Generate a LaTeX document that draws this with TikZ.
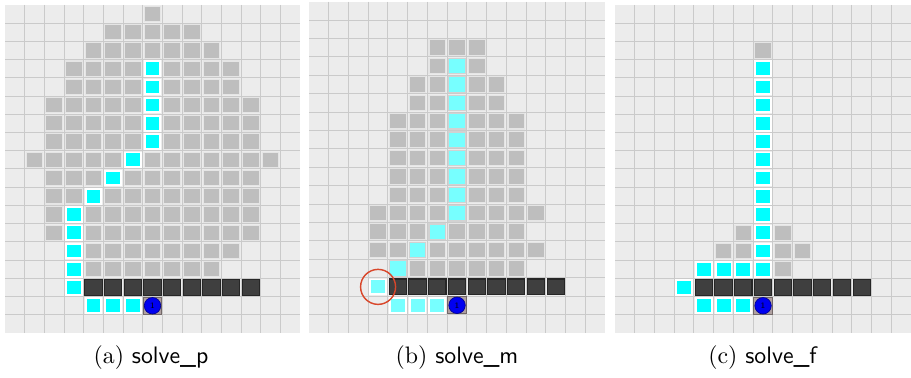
\documentclass[tikz,border=0pt]{standalone}
\usepackage{tikz}
\definecolor{gridbg}{HTML}{ECECEC}
\definecolor{gridln}{HTML}{CACACA}
\definecolor{seengray}{HTML}{BEBEBE}
\definecolor{pathcyan}{HTML}{00FFFF}
\definecolor{pathcyanlt}{HTML}{77FFFF}
\definecolor{wallgray}{HTML}{3F3F3F}
\definecolor{startbg}{HTML}{AFA0A0}
\definecolor{agentblue}{HTML}{0000F0}
\definecolor{markred}{HTML}{D9472B}
\tikzset{
  grid-back/.style={fill=gridbg},
  grid-line/.style={draw=gridln, line width=0.4pt},
  seen-cell/.style={fill=seengray, draw=white!60!seengray, line width=0.45pt},
  path-cell/.style={fill=pathcyan, draw=white, line width=0.8pt},
  path-cell-lt/.style={fill=pathcyanlt, draw=white!65!gray, line width=0.5pt},
  wall-cell/.style={fill=wallgray, draw=black!85, line width=0.45pt},
  start-cell/.style={fill=startbg, draw=black!35!startbg, line width=0.4pt},
  agent/.style={circle, fill=agentblue, draw=blue!60!black, line width=0.3pt,
    inner sep=0pt, minimum size=6.9pt, font=\fontsize{3.5}{3.5}\selectfont},
  sub-caption/.style={anchor=base, font=\normalsize, inner sep=0pt},
  mark-ring/.style={draw=markred, line width=0.6pt}
}
% one filled square inside cell (col,row), optional gap to the cell edge
\newcommand\fillcell[4][0.1]{\path[#2] (#3+#1,#4+#1) rectangle (#3+1-#1,#4+1-#1);}
\newcommand\fillrow[4]{\foreach \cc in {#3,...,#4} {\fillcell[0.08]{#1}{\cc}{#2}}}
% 15 x 18 board with the wall and the start cell
\newcommand\emptyboard{%
  \fill[grid-back] (0,0) rectangle (15,18);
  \foreach \i in {1,...,14} {\draw[grid-line] (\i,0) -- (\i,18);}
  \foreach \j in {1,...,17} {\draw[grid-line] (0,\j) -- (15,\j);}
  \foreach \cc in {4,...,12} {\path[wall-cell] (\cc+0.06,15.07) rectangle (\cc+0.94,15.93);}
  \path[start-cell] (7.03,16.03) rectangle (7.97,16.97);
}

\begin{document}
\begin{tikzpicture}[x=0.42pt, y=-0.42pt]
  \useasboundingbox (0,0) rectangle (911,377);
  % (a)
  \begin{scope}[shift={(5,4.8)}, x=8.26pt, y=-7.66pt]
    \emptyboard
    \foreach \rw/\ca/\cb in {0/7/7, 1/5/9, 2/4/10, 3/3/11, 4/3/11, 5/2/12, 6/2/12, 7/2/12,
      8/1/13, 9/2/12, 10/2/12, 11/2/12, 12/2/12, 13/4/11, 14/4/10}
      {\fillrow{seen-cell}{\rw}{\ca}{\cb}}
    \foreach \cc/\rw in {7/3, 7/4, 7/5, 7/6, 7/7, 6/8, 5/9, 4/10, 3/11, 3/12, 3/13, 3/14,
      3/15, 4/16, 5/16, 6/16}
      {\fillcell{path-cell}{\cc}{\rw}}
    \node[agent] (agentA) at (7.5,16.5) {1};
  \end{scope}
  % (b)
  \begin{scope}[shift={(309,1.6)}, x=8.29pt, y=-7.73pt]
    \emptyboard
    \foreach \rw/\ca/\cb in {2/6/8, 3/6/8, 4/5/9, 5/5/9, 6/4/10, 7/4/10, 8/4/10, 9/4/10,
      10/4/10, 11/3/11, 12/3/10, 13/3/11, 14/5/10}
      {\fillrow{seen-cell}{\rw}{\ca}{\cb}}
    \foreach \cc/\rw in {7/3, 7/4, 7/5, 7/6, 7/7, 7/8, 7/9, 7/10, 7/11, 6/12, 5/13, 4/14}
      {\fillcell[0.08]{path-cell-lt}{\cc}{\rw}}
    \foreach \cc/\rw in {3/15, 4/16, 5/16, 6/16}
      {\fillcell{path-cell,fill=pathcyanlt}{\cc}{\rw}}
    \node[agent] (agentB) at (7.5,16.5) {1};
    \draw[mark-ring] (3.5,15.5) circle [radius=7.35pt];
  \end{scope}
  % (c)
  \begin{scope}[shift={(615,4.8)}, x=8.29pt, y=-7.66pt]
    \emptyboard
    \foreach \rw/\ca/\cb in {2/7/7, 12/6/8, 13/5/9, 14/8/8}
      {\fillrow{seen-cell}{\rw}{\ca}{\cb}}
    \foreach \cc/\rw in {7/3, 7/4, 7/5, 7/6, 7/7, 7/8, 7/9, 7/10, 7/11, 7/12, 7/13, 7/14,
      4/14, 5/14, 6/14, 3/15, 4/16, 5/16, 6/16}
      {\fillcell{path-cell}{\cc}{\rw}}
    \node[agent] (agentC) at (7.5,16.5) {1};
  \end{scope}
  \node[sub-caption] (capA) at (151,363) {(a) \textsf{solve\_p}};
  \node[sub-caption] (capB) at (457,363) {(b) \textsf{solve\_m}};
  \node[sub-caption] (capC) at (763,363) {(c) \textsf{solve\_f}};
\end{tikzpicture}
\end{document}
